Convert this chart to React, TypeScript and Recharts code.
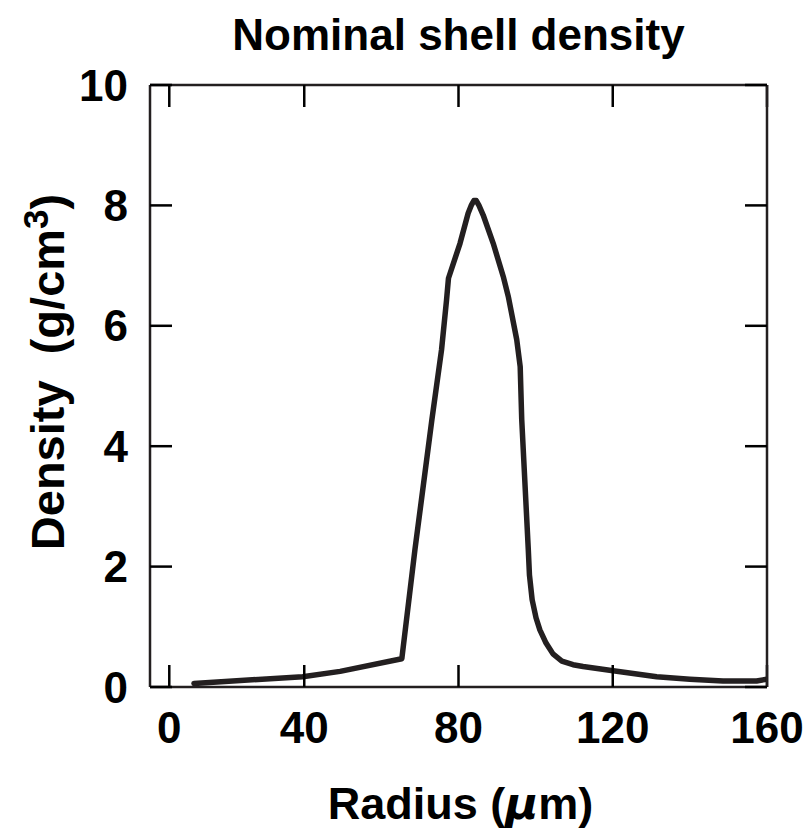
import React from 'react';
import { LineChart, Line, XAxis, YAxis, Label } from 'recharts';

// Radius (µm) and density (g/cm3)
const radius = [11.4, 39.6, 49.3, 65.3, 68.7, 73.1, 75.6, 76.9, 77.4, 80.4, 82.5, 83.3, 84.0, 84.6, 85.3, 86.4, 89.0, 91.6, 92.9, 95.1, 96.0, 96.4, 98.1, 98.4, 99.1, 100.1, 101.1, 102.7, 104.5, 106.8, 109.7, 112.3, 120.1, 131.4, 140.0, 148.6, 157.3, 160];
const density = [0.06, 0.17, 0.26, 0.47, 2.28, 4.44, 5.6, 6.43, 6.79, 7.37, 7.87, 8.0, 8.08, 8.08, 8.0, 7.84, 7.37, 6.82, 6.49, 5.77, 5.32, 4.44, 2.28, 1.86, 1.45, 1.15, 0.95, 0.73, 0.55, 0.43, 0.37, 0.34, 0.27, 0.17, 0.13, 0.1, 0.1, 0.13];

const xTickValues = [5, 40, 80, 120, 160];
const xTickLabels = ['0', '40', '80', '120', '160'];
const yTickValues = [0, 2, 4, 6, 8, 10];

const titleText = 'Nominal shell density';

const data = radius.map((r, i) => ({ r, d: density[i] }));

const FONT = '"Liberation Sans", Arial, Helvetica, sans-serif';
const INK = '#231f20';

const W = 811;
const H = 831;
const PLOT_LEFT = 150;
const PLOT_RIGHT = 767;
const PLOT_TOP = 85;
const PLOT_BOTTOM = 687;

const TitleLabel = () => (
  <text
    x={(PLOT_LEFT + PLOT_RIGHT) / 2}
    y={50}
    textAnchor="middle"
    fontFamily={FONT}
    fontWeight="bold"
    fontSize={44}
    fill="#000"
  >
    {titleText}
  </text>
);

const XTitle = () => (
  <text
    x={(PLOT_LEFT + PLOT_RIGHT) / 2 + 2}
    y={819}
    textAnchor="middle"
    fontFamily={FONT}
    fontWeight="bold"
    fontSize={45}
    fill="#000"
  >
    <tspan>Radius (</tspan>
    <tspan fontStyle="italic" fontFamily='"DejaVu Sans", sans-serif'>µ</tspan>
    <tspan>m)</tspan>
  </text>
);

const YTitle = () => {
  const cx = 64;
  const cy = 372;
  return (
    <text
      x={cx}
      y={cy}
      transform={`rotate(-90 ${cx} ${cy})`}
      textAnchor="middle"
      fontFamily={FONT}
      fontWeight="bold"
      fontSize={47}
      fill="#000"
      style={{ whiteSpace: 'pre' }}
    >
      <tspan>{'Density  (g/cm'}</tspan>
      <tspan dy={-16} fontSize={35}>3</tspan>
      <tspan dy={16}>)</tspan>
    </text>
  );
};

const tickStyle = { fill: '#000', fontSize: 44, fontWeight: 'bold', fontFamily: FONT };
const axisLineStyle = { stroke: INK, strokeWidth: 2.5 };
const tickLineStyle = { stroke: '#000', strokeWidth: 2.5 };

export default function App() {
  return (
    <div style={{ position: 'absolute', left: 0, top: 0, width: W, height: H, background: '#fff' }}>
      <LineChart
        width={W}
        height={H}
        data={data}
        margin={{ top: PLOT_TOP - 1, right: W - PLOT_RIGHT - 1, bottom: 0, left: 0 }}
      >
        <XAxis
          xAxisId="b"
          dataKey="r"
          type="number"
          domain={[0, 160]}
          allowDataOverflow
          ticks={xTickValues}
          interval={0}
          tickFormatter={(v: number) => xTickLabels[xTickValues.indexOf(v)] ?? ''}
          orientation="bottom"
          height={H - PLOT_BOTTOM}
          tickSize={-22}
          tickMargin={47}
          tick={tickStyle}
          axisLine={axisLineStyle}
          tickLine={tickLineStyle}
          label={<Label content={<XTitle />} />}
        />
        <XAxis
          xAxisId="t"
          dataKey="r"
          type="number"
          domain={[0, 160]}
          allowDataOverflow
          ticks={xTickValues}
          interval={0}
          tickFormatter={() => ''}
          orientation="top"
          height={1}
          tickSize={-22}
          tickMargin={0}
          axisLine={axisLineStyle}
          tickLine={tickLineStyle}
          label={<Label content={<TitleLabel />} />}
        />
        <YAxis
          yAxisId="l"
          type="number"
          domain={[0, 10]}
          allowDataOverflow
          ticks={yTickValues}
          interval={0}
          orientation="left"
          width={PLOT_LEFT}
          tickSize={-22}
          tickMargin={44}
          tick={tickStyle}
          axisLine={axisLineStyle}
          tickLine={tickLineStyle}
          label={<Label content={<YTitle />} />}
        />
        <YAxis
          yAxisId="r"
          type="number"
          domain={[0, 10]}
          allowDataOverflow
          ticks={yTickValues}
          interval={0}
          tickFormatter={() => ''}
          orientation="right"
          width={1}
          tickSize={-22}
          tickMargin={0}
          axisLine={axisLineStyle}
          tickLine={tickLineStyle}
        />
        <Line
          xAxisId="b"
          yAxisId="l"
          type="linear"
          dataKey="d"
          stroke={INK}
          strokeWidth={5.5}
          strokeLinejoin="round"
          strokeLinecap="round"
          dot={false}
          activeDot={false}
          isAnimationActive={false}
        />
      </LineChart>
    </div>
  );
}
